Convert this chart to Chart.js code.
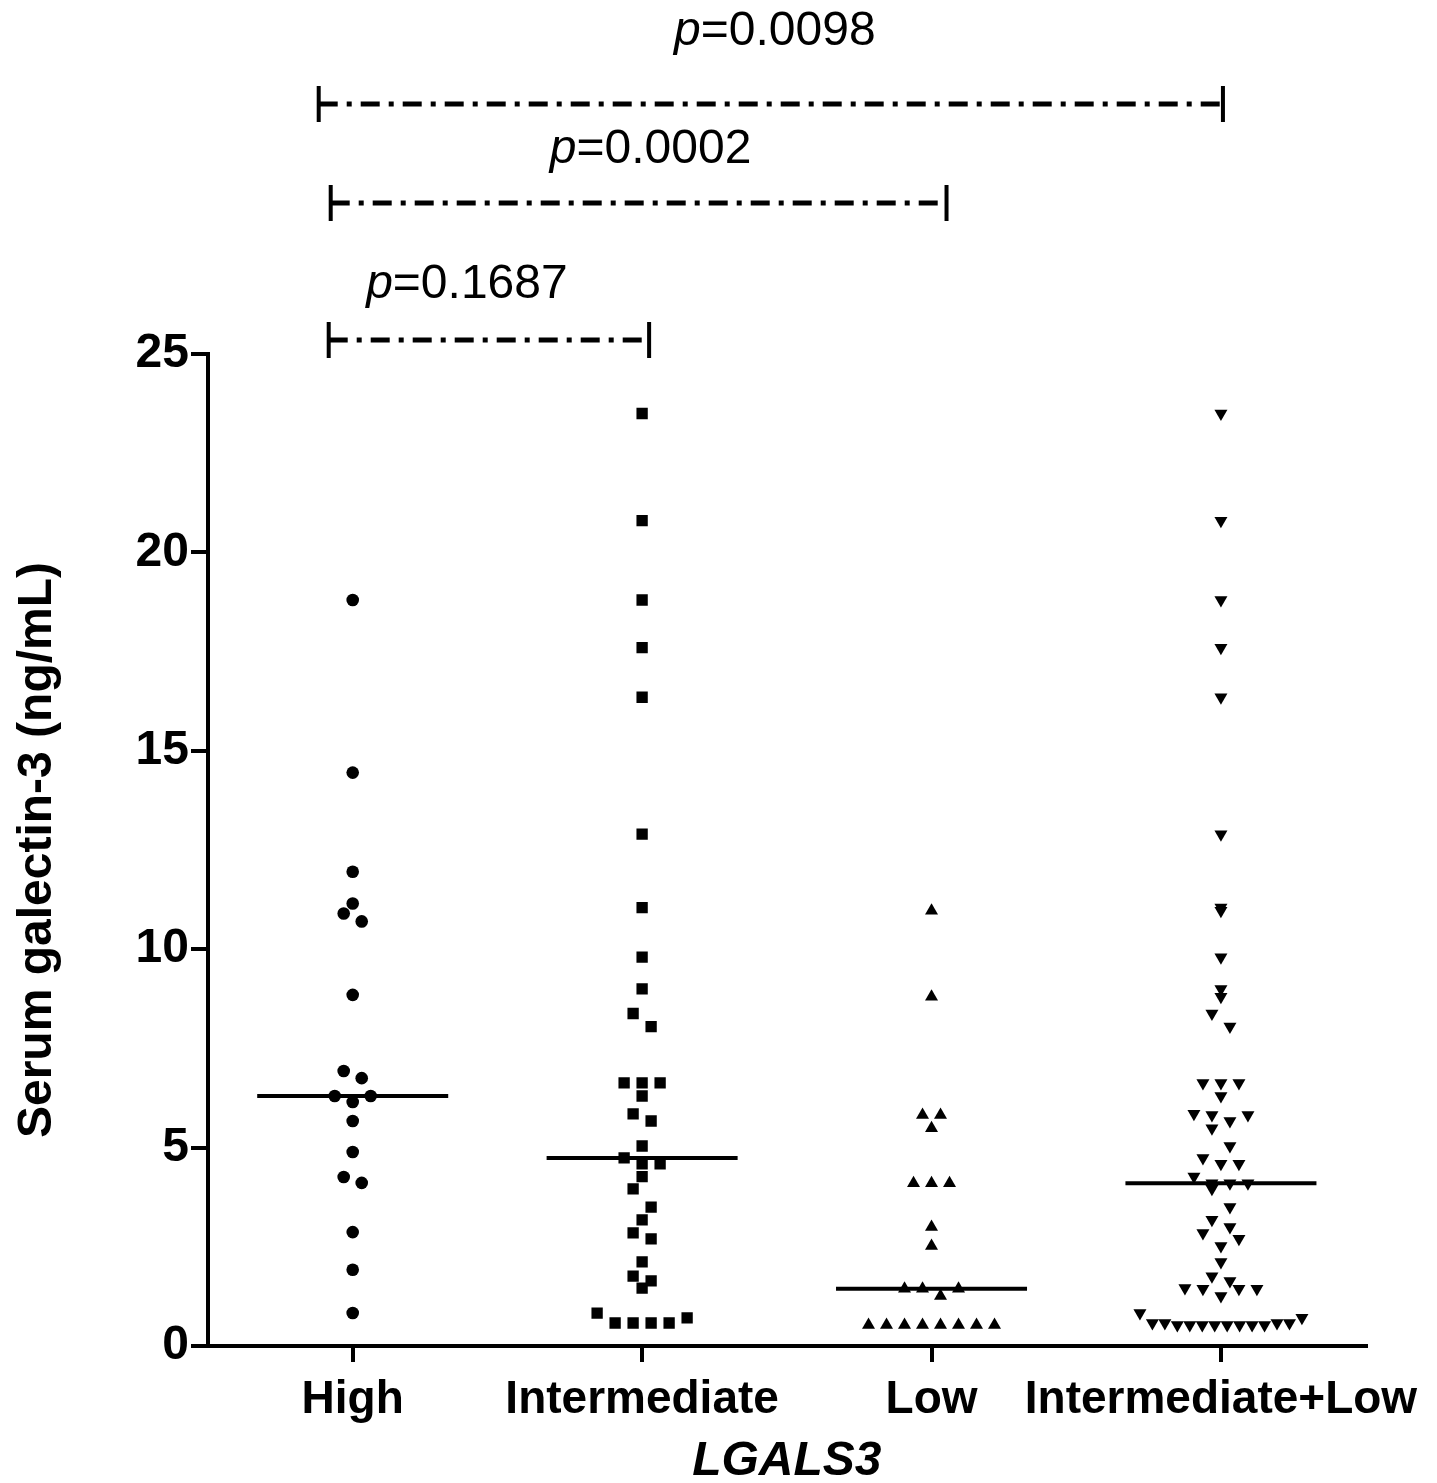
<!DOCTYPE html>
<html>
<head>
<meta charset="utf-8">
<script src="https://cdn.jsdelivr.net/npm/chart.js@4.4.1/dist/chart.umd.min.js"></script>
<style>
  html, body { margin: 0; padding: 0; background: #fff; }
</style>
</head>
<body>
<canvas id="chart1" width="1437" height="1483"></canvas>
<script>
const groups = ['High', 'Intermediate', 'Low', 'Intermediate+Low'];

const highVals = [18.8, 14.45, 11.95, 11.15, 10.9, 10.7, 8.85, 6.93, 6.75, 6.3, 6.3, 6.15,
  5.67, 4.89, 4.26, 4.11, 2.87, 1.92, 0.83];

const intermediateVals = [23.5, 20.8, 18.8, 17.6, 16.35, 12.9, 11.05, 9.8, 9.0, 8.38, 8.05,
  6.63, 6.63, 6.63, 6.3, 5.85, 5.67, 5.04, 4.74, 4.59, 4.59, 4.27, 3.96, 3.5, 3.18,
  2.85, 2.7, 2.12, 1.76, 1.64, 1.46, 0.83, 0.71, 0.58, 0.58, 0.58, 0.58];

const lowVals = [10.97, 8.8, 5.82, 5.82, 5.49, 4.1, 4.1, 4.1, 3.0, 2.52, 1.44, 1.44, 1.44,
  1.26, 0.53, 0.53, 0.53, 0.53, 0.53, 0.53, 0.53, 0.53];

// the last column is the two middle groups pooled
const combinedVals = intermediateVals.concat(lowVals);

const yTicks = [0, 5, 10, 15, 20, 25];

const pPairs = [[0, 1], [0, 2], [0, 3]];
const pValues = ['0.1687', '0.0002', '0.0098'];

const allVals = [highVals, intermediateVals, lowVals, combinedVals];
const FONT = '"Liberation Sans", Arial, sans-serif';

function median(vals) {
  const s = vals.slice().sort((a, b) => a - b);
  const n = s.length;
  return n % 2 ? s[(n - 1) / 2] : (s[n / 2 - 1] + s[n / 2]) / 2;
}

// dot-plot spreading: values in the same 0.5 band sit side by side
function spread(vals, center, step, maxWidth) {
  const bins = {};
  vals.forEach(v => {
    const b = Math.floor(v / 0.5);
    (bins[b] = bins[b] || []).push(v);
  });
  const out = [];
  Object.values(bins).forEach(list => {
    list.sort((a, b) => a - b);
    const n = list.length;
    const gap = n > 1 ? Math.min(step, maxWidth / (n - 1)) : 0;
    const slots = [];
    for (let k = 0; k < n; k++) slots.push(k - (n - 1) / 2);
    slots.sort((a, b) => Math.abs(a) - Math.abs(b) || b - a);
    list.forEach((v, k) => out.push({ x: center + slots[k] * gap, y: v }));
  });
  return out;
}

const shapes = ['circle', 'rect', 'triangle', 'triangle'];
const rotations = [0, 0, 0, 180];
const radii = [6.3, 8, 7.5, 7.5];

const datasets = [];
allVals.forEach((vals, i) => {
  const m = median(vals);
  datasets.push({
    type: 'line',
    data: [{ x: i + 1 - 0.33, y: m }, { x: i + 1 + 0.33, y: m }],
    borderColor: '#000',
    borderWidth: 4,
    pointRadius: 0,
    order: 0
  });
});
allVals.forEach((vals, i) => {
  datasets.push({
    type: 'scatter',
    data: vals.map(v => ({ x: i + 1, y: v })),
    pointStyle: shapes[i],
    pointRotation: rotations[i],
    pointRadius: radii[i],
    pointBackgroundColor: '#000',
    pointBorderWidth: 0,
    order: 1
  });
});

const bracketPlugin = {
  id: 'brackets',
  afterDraw(chart) {
    const { ctx, chartArea, scales } = chart;
    const x = scales.x;
    const levels = [14, 151, 250];
    const lift = [55, 53, 72];
    const leftPad = [24, 22, 34];
    const rightPad = [7, 15, 2];
    const textShift = [-22, 12, 4];
    pPairs.forEach((pair, k) => {
      const x0 = x.getPixelForValue(pair[0] + 1) - leftPad[k];
      const x1 = x.getPixelForValue(pair[1] + 1) + rightPad[k];
      const y = chartArea.top - levels[k];
      ctx.save();
      ctx.strokeStyle = '#000';
      ctx.lineWidth = 5;
      ctx.setLineDash([19, 9, 5, 9]);
      ctx.beginPath();
      ctx.moveTo(x0, y);
      ctx.lineTo(x1, y);
      ctx.stroke();
      ctx.setLineDash([]);
      ctx.lineWidth = 4;
      ctx.beginPath();
      ctx.moveTo(x0, y - 18); ctx.lineTo(x0, y + 18);
      ctx.moveTo(x1, y - 18); ctx.lineTo(x1, y + 18);
      ctx.stroke();

      const italic = 'italic 48px ' + FONT;
      const normal = '48px ' + FONT;
      const rest = '=' + pValues[k];
      ctx.font = italic;
      const w1 = ctx.measureText('p').width;
      ctx.font = normal;
      const w2 = ctx.measureText(rest).width;
      const start = (x0 + x1) / 2 - (w1 + w2) / 2 + textShift[k];
      ctx.fillStyle = '#000';
      ctx.textBaseline = 'middle';
      ctx.textAlign = 'left';
      ctx.font = italic;
      ctx.fillText('p', start, y - lift[k]);
      ctx.font = normal;
      ctx.fillText(rest, start + w1, y - lift[k]);
      ctx.restore();
    });
  }
};

const ctx = document.getElementById('chart1').getContext('2d');
const myChart = new Chart(ctx, {
  type: 'scatter',
  data: { datasets: datasets },
  options: {
    responsive: false,
    animation: false,
    events: [],
    layout: { padding: { top: 354, right: 71, left: 0, bottom: 0 } },
    plugins: { legend: { display: false }, tooltip: { enabled: false } },
    scales: {
      x: {
        type: 'linear',
        min: 0.5,
        max: 4.5,
        afterBuildTicks: s => { s.ticks = groups.map((g, i) => ({ value: i + 1 })); },
        afterFit: s => { s.height = 137; },
        ticks: {
          callback: v => groups[v - 1],
          autoSkip: false,
          maxRotation: 0,
          color: '#000',
          padding: 11,
          font: { family: FONT, size: 46, weight: 'bold' }
        },
        grid: {
          drawOnChartArea: false,
          drawTicks: true,
          tickLength: 16,
          tickWidth: 4,
          tickColor: '#000',
          lineWidth: 4,
          color: '#000'
        },
        border: { display: true, color: '#000', width: 4 },
        title: {
          display: true,
          text: 'LGALS3',
          color: '#000',
          padding: 0,
          font: { family: FONT, size: 48, weight: 'bold', style: 'italic', lineHeight: 0.9 }
        }
      },
      y: {
        min: 0,
        max: 25,
        afterBuildTicks: s => { s.ticks = yTicks.map(v => ({ value: v })); },
        afterFit: s => { s.width = 208; },
        ticks: {
          color: '#000',
          padding: 2,
          font: { family: FONT, size: 48, weight: 'bold' }
        },
        grid: {
          drawOnChartArea: false,
          drawTicks: true,
          tickLength: 17,
          tickWidth: 4,
          tickColor: '#000',
          lineWidth: 4,
          color: '#000'
        },
        border: { display: true, color: '#000', width: 4 },
        title: {
          display: true,
          text: 'Serum galectin-3 (ng/mL)',
          color: '#000',
          padding: { top: 9, bottom: 0 },
          font: { family: FONT, size: 48, weight: 'bold' }
        }
      }
    }
  },
  plugins: [bracketPlugin]
});

// spread the points now that the pixel size of one x unit is known
const unitPx = myChart.scales.x.getPixelForValue(2) - myChart.scales.x.getPixelForValue(1);
allVals.forEach((vals, i) => {
  myChart.data.datasets[4 + i].data = spread(vals, i + 1, 18 / unitPx, 162 / unitPx);
});
myChart.update('none');
</script>
</body>
</html>
